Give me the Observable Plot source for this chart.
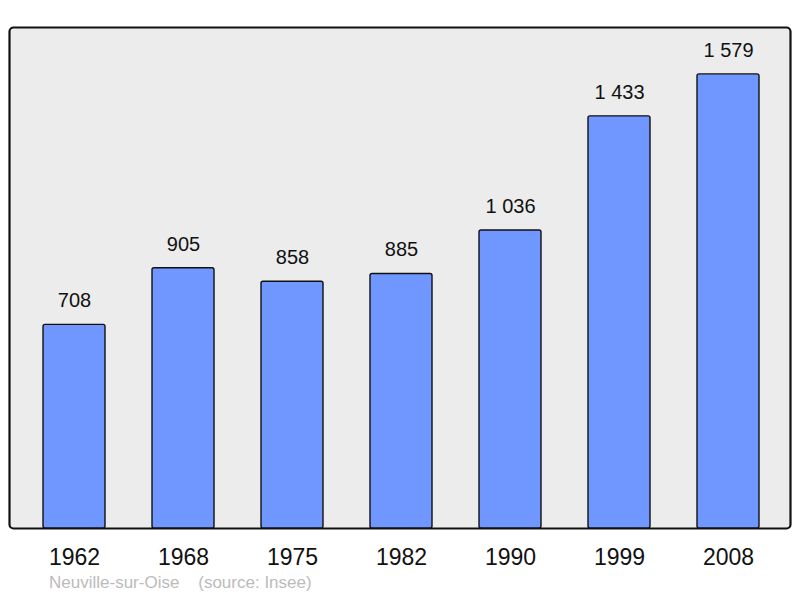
<!DOCTYPE html>
<html>
<head>
<meta charset="utf-8">
<script src="https://cdn.jsdelivr.net/npm/d3@7"></script>
<script src="https://cdn.jsdelivr.net/npm/@observablehq/plot@0.6"></script>
<style>
  body { margin: 0; background: #fff; font-family: "Liberation Sans", Arial, sans-serif; }
  figure { margin: 0; }
  #caption { margin: 3px 0 0 49px; font-size: 17px; color: #bbbbbb; white-space: pre; font-family: "Liberation Sans", Arial, sans-serif; }
</style>
</head>
<body>
<div id="chart"></div>
<div id="caption"></div>
<script>
const years = ["1962", "1968", "1975", "1982", "1990", "1999", "2008"];
const population = [708, 905, 858, 885, 1036, 1433, 1579];
const captionText = "Neuville-sur-Oise    (source: Insee)";

const data = years.map((y, i) => ({year: y, pop: population[i]}));
const fmt = d3.formatLocale({thousands: "\u00a0", grouping: [3], decimal: ","}).format(",d");

const chart = Plot.plot({
  width: 800,
  height: 570,
  marginTop: 27,
  marginBottom: 42,
  marginLeft: 9,
  marginRight: 10,
  style: {fontFamily: "'Liberation Sans', Arial, sans-serif", background: "transparent"},
  x: {domain: years, range: [18.0, 784.0], paddingInner: 0.43, paddingOuter: 0.215, label: null},
  y: {domain: [0, 1742], axis: null},
  marks: [
    Plot.frame({fill: "#ececec", stroke: "#111", strokeWidth: 2.2, rx: 4}),
    Plot.barY(data, {x: "year", y: "pop", fill: "#7097ff", stroke: "#111", strokeWidth: 1.4, rx: 2}),
    Plot.text(data, {x: "year", y: "pop", text: d => fmt(d.pop), dy: -24, fontSize: 20, fill: "#111"}),
    Plot.axisX({tickSize: 0, tickPadding: 20, fontSize: 23, color: "#111", label: null})
  ]
});
document.getElementById("chart").append(chart);
document.getElementById("caption").textContent = captionText;
</script>
</body>
</html>
